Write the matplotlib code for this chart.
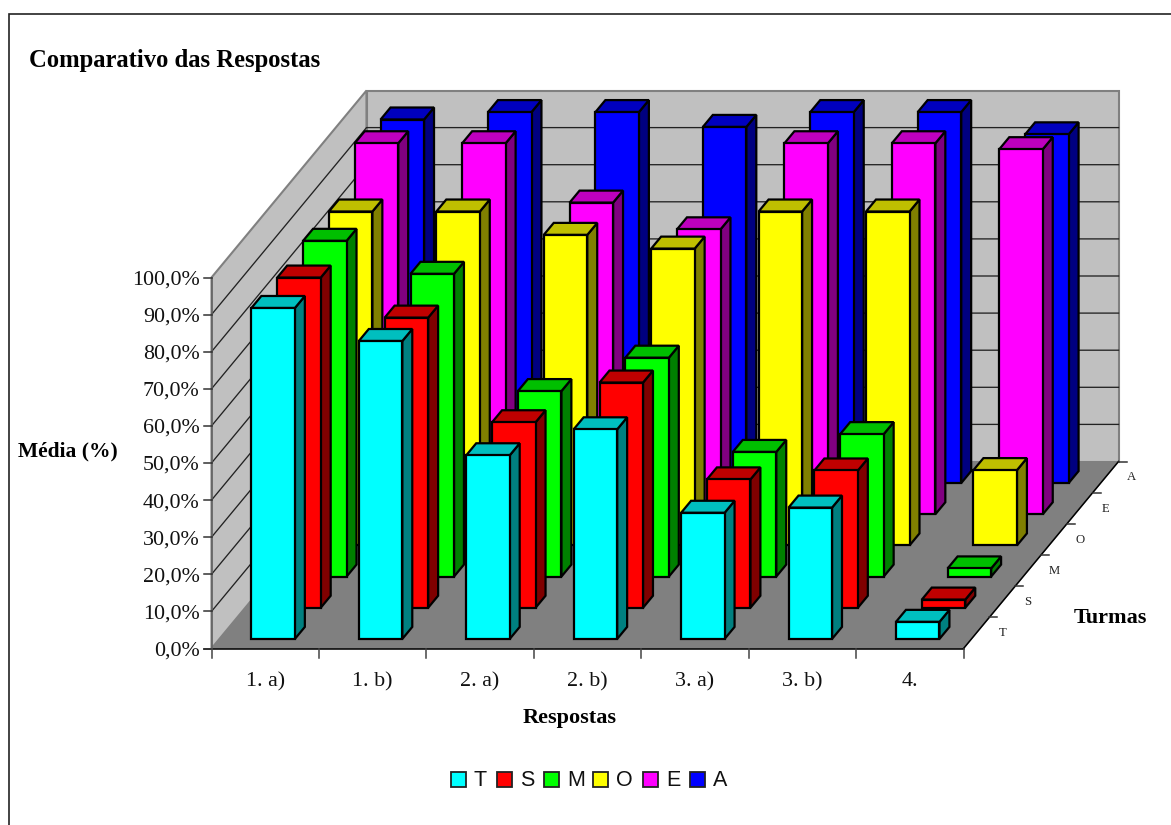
import matplotlib
matplotlib.use('Agg')
import matplotlib.pyplot as plt
from matplotlib.patches import Polygon, Rectangle

categorias = ['1. a)', '1. b)', '2. a)', '2. b)', '3. a)', '3. b)', '4.']
turmas = ['T', 'S', 'M', 'O', 'E', 'A']
cores = ['#00FFFF', '#FF0000', '#00FF00', '#FFFF00', '#FF00FF', '#0000FF']

T = [89.2, 80.3, 49.5, 56.5, 34.0, 35.4, 4.6]
S = [89.0, 78.2, 50.0, 60.7, 34.6, 37.0, 2.2]
M = [90.5, 81.6, 50.0, 59.0, 33.6, 38.4, 2.2]
O = [90.0, 90.0, 83.7, 80.0, 90.0, 90.0, 20.3]
E = [100.0, 100.0, 84.0, 76.8, 100.0, 100.0, 98.4]
A = [98.0, 100.0, 100.0, 96.0, 100.0, 100.0, 94.0]
series = [T, S, M, O, E, A]
ticks_pct = [0, 10, 20, 30, 40, 50, 60, 70, 80, 90, 100]

plt.rcParams['font.family'] = ['Liberation Serif', 'DejaVu Serif']

fig = plt.figure(figsize=(11.71, 8.25), dpi=100)
ax = fig.add_axes([0, 0, 1, 1])
ax.set_xlim(0, 1171)
ax.set_ylim(825, 0)
ax.axis('off')

# oblique projection: c = category, s = series depth, v = percent
X0, Y0 = 211.5, 648.5
CW = (963.5 - X0) / len(categorias)
DX, DY = 155.0 / 6, -187.0 / 6
VH = 3.71


def proj(c, s, v=0):
    return (X0 + c * CW + s * DX, Y0 + s * DY - v * VH)


def escurece(cor, f):
    r, g, b = matplotlib.colors.to_rgb(cor)
    return (r * f, g * f, b * f)


nc, ns = len(categorias), len(turmas)

# frame only runs along the top and the left
ax.plot([8.5, 8.5, 1171], [825, 13.5, 13.5], color='#222222', lw=1.2, solid_joinstyle='miter')

# walls and floor
ax.add_patch(Polygon([proj(0, 0), proj(0, ns), proj(nc, ns), proj(nc, 0)], fc='#808080', ec='#808080', lw=1))
ax.add_patch(Polygon([proj(0, 0), proj(0, 0, 100), proj(0, ns, 100), proj(0, ns)], fc='#C0C0C0', ec='#808080', lw=1.5))
ax.add_patch(Polygon([proj(0, ns), proj(0, ns, 100), proj(nc, ns, 100), proj(nc, ns)], fc='#C0C0C0', ec='#808080', lw=1.5))

# gridlines
for v in ticks_pct[1:-1]:
    pts = [proj(0, 0, v), proj(0, ns, v), proj(nc, ns, v)]
    ax.plot([p[0] for p in pts], [p[1] for p in pts], color='#222222', lw=0.95)

# axes lines and ticks
a, b = proj(0, 0), proj(nc, 0)
ax.plot([a[0] - 8, b[0]], [a[1], b[1]], color='black', lw=1.1)
c_ = proj(nc, ns)
ax.plot([b[0], c_[0]], [b[1], c_[1]], color='black', lw=1.1)
ax.plot([a[0], a[0]], [a[1], proj(0, 0, 100)[1]], color='#606060', lw=1.1)

for v in ticks_pct:
    x, y = proj(0, 0, v)
    ax.plot([x - 8, x], [y, y], color='#333333', lw=1.1)
    ax.text(x - 12, y + 2.5, '%d,0%%' % v, ha='right', va='center', fontsize=15.8, color='#111111')

for c in range(nc + 1):
    x, y = proj(c, 0)
    ax.plot([x, x], [y, y + 9], color='#444444', lw=1.1)
for c, nome in enumerate(categorias):
    x, y = proj(c + 0.5, 0)
    ax.text(x, y + 33.5, nome, ha='center', va='center', fontsize=15.8, color='#111111')

for s, nome in enumerate(turmas):
    x, y = proj(nc, s + 1)
    ax.plot([x, x + 8], [y, y], color='#333333', lw=1.1)
    ax.text(x + 13, y + 16, nome, ha='center', va='center', fontsize=9.2, color='#222222')

# bars, back row first so nearer rows cover them
LARG = 43.5 / CW
ESP = 0.385
for s in range(ns - 1, -1, -1):
    cor = cores[s]
    s0 = s + (1 - ESP) / 2
    s1 = s0 + ESP
    for c in range(nc):
        v = series[s][c]
        c0 = c + (1 - LARG) / 2
        c1 = c0 + LARG
        kw = dict(ec='black', lw=1.6, joinstyle='miter')
        ax.add_patch(Polygon([proj(c1, s0), proj(c1, s1), proj(c1, s1, v), proj(c1, s0, v)],
                             fc=escurece(cor, 0.5), zorder=3, **kw))
        ax.add_patch(Polygon([proj(c0, s0, v), proj(c1, s0, v), proj(c1, s1, v), proj(c0, s1, v)],
                             fc=escurece(cor, 0.75), zorder=3, **kw))
        ax.add_patch(Polygon([proj(c0, s0), proj(c1, s0), proj(c1, s0, v), proj(c0, s0, v)],
                             fc=cor, zorder=3, **kw))

# titles
ax.text(29, 60.5, 'Comparativo das Respostas', fontsize=17.7, fontweight='bold', va='center', ha='left')
ax.text(18, 451, 'Média (%)', fontsize=15.5, fontweight='bold', va='center', ha='left')
ax.text(569.5, 718, 'Respostas', fontsize=16, fontweight='bold', va='center', ha='center')
ax.text(1110, 618, 'Turmas', fontsize=16, fontweight='bold', va='center', ha='center')

# legend
quad_x = [451, 497, 544, 593, 643, 690]
for nome, cor, x in zip(turmas, cores, quad_x):
    ax.add_patch(Rectangle((x, 771.5), 14.5, 15, fc=cor, ec='#222222', lw=1.3))
    ax.text(x + 23, 780, nome, fontsize=15.5, family=['Liberation Sans'], va='center', ha='left', color='#111111')

fig.savefig('out.png', dpi=100)
